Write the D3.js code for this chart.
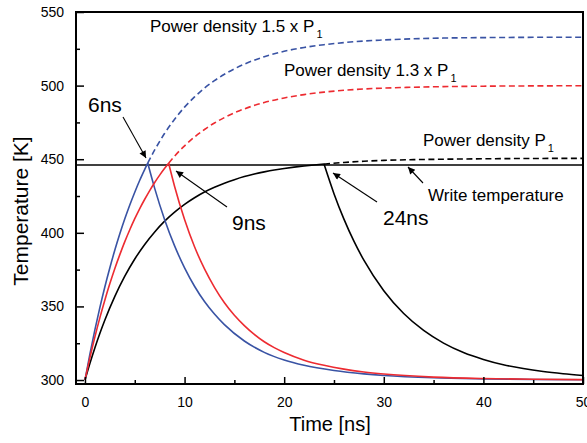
<!DOCTYPE html>
<html>
<head>
<meta charset="utf-8">
<script src="https://cdn.jsdelivr.net/npm/d3@7"></script>
<style>
  html, body { margin: 0; padding: 0; background: #fff; }
  svg { display: block; font-family: "Liberation Sans", Arial, sans-serif; }
</style>
</head>
<body>
<svg id="chart" width="587" height="443"></svg>
<script>
// ---------------- data ----------------
const xTicks = [0, 10, 20, 30, 40, 50];
const yTicks = [300, 350, 400, 450, 500, 550];
const writeTemperature = 446;

// Power density 1.5 x P1 (blue)
const blueHeatT = [0, 0.5, 1, 1.5, 2, 2.5, 3, 3.5, 4, 4.5, 5, 5.5, 6, 6.3];
const blueHeatV = [300, 317.8, 334.2, 349.4, 363.4, 376.3, 388.3, 399.3, 409.5, 418.9, 427.6, 435.7, 443.1, 447.4];
const blueDashT = [6.3, 7, 7.5, 8, 9, 10, 11, 12, 13, 14, 15, 16, 18, 20, 22, 24, 26, 28, 30, 33, 36, 40, 45, 50];
const blueDashV = [447.4, 456.3, 462.1, 467.6, 477.1, 485.4, 492.3, 498.3, 503.4, 507.7, 511.4, 514.6, 519.6, 523.3, 525.9, 527.8, 529.2, 530.3, 531.0, 531.8, 532.3, 532.6, 532.8, 532.9];
const blueCoolT = [6.3, 7, 8, 9, 10, 11, 12, 13, 14, 16, 18, 20, 22, 25, 28, 30, 35, 40, 45, 50];
const blueCoolV = [447.4, 430.2, 408.9, 391.1, 376.2, 363.7, 353.3, 344.8, 337.6, 326.5, 318.8, 313.6, 310.0, 306.5, 304.2, 303.1, 301.5, 300.8, 300.4, 300.2];

// Power density 1.3 x P1 (red)
const redHeatT = [0, 0.5, 1, 1.5, 2, 2.5, 3, 3.5, 4, 4.5, 5, 5.5, 6, 6.5, 7, 7.5, 8, 8.4];
const redHeatV = [300, 315.3, 329.4, 342.4, 354.4, 365.5, 375.8, 385.2, 394.0, 402.1, 409.6, 416.5, 422.8, 428.7, 434.2, 439.2, 443.8, 447.3];
const redDashT = [8.4, 9, 10, 11, 12, 13, 14, 15, 16, 18, 20, 22, 24, 26, 28, 30, 33, 36, 40, 45, 50];
const redDashV = [447.3, 452.1, 459.1, 465.1, 470.2, 474.6, 478.3, 481.5, 484.2, 488.5, 491.6, 493.9, 495.6, 496.8, 497.7, 498.3, 498.9, 499.3, 499.6, 499.8, 499.9];
const redCoolT = [8.4, 9, 10, 11, 12, 13, 14, 15, 16, 17, 18, 19, 20, 22, 24, 26, 28, 30, 35, 40, 45, 50];
const redCoolV = [447.3, 431.5, 409.0, 390.5, 375.5, 363.0, 352.5, 344.0, 337.0, 331.0, 326.0, 322.0, 318.7, 313.5, 310.0, 307.4, 305.5, 304.1, 302.0, 301.0, 300.5, 300.3];

// Power density P1 (black)
const blackHeatT = [0, 0.5, 1, 1.5, 2, 3, 4, 5, 6, 7, 8, 9, 10, 11, 12, 13, 14, 15, 16, 17, 18, 19, 20, 21, 22, 23, 24];
const blackHeatV = [300, 311.4, 322.0, 331.8, 340.8, 356.8, 370.5, 382.2, 392.1, 400.6, 407.9, 414.0, 419.3, 423.8, 427.7, 430.9, 433.7, 436.1, 438.2, 439.9, 441.4, 442.7, 443.7, 444.6, 445.4, 446.1, 446.7];
const blackDashT = [24, 26, 28, 30, 33, 36, 40, 45, 50];
const blackDashV = [446.7, 447.8, 448.6, 449.2, 449.7, 450.0, 450.3, 450.5, 450.6];
const blackCoolT = [24, 25, 26, 27, 28, 30, 32, 34, 36, 38, 40, 42, 44, 46, 48, 50];
const blackCoolV = [446.7, 426.6, 409.3, 394.3, 381.4, 360.7, 345.2, 333.7, 325.1, 318.7, 314.0, 310.4, 307.8, 305.8, 304.3, 303.1];

// ---------------- layout ----------------
const svg = d3.select("#chart");
const L = 76, R = 583, T = 12, B = 384;
const x = d3.scaleLinear().domain([-0.9, 50]).range([L, R]);
const y = d3.scaleLinear().domain([297.3, 550]).range([B, T]);

const BLUE = "#3953a4", RED = "#ed2b31";

const zip = (ts, vs) => ts.map((t, i) => [t, vs[i]]);
const line = d3.line().x(d => x(d[0])).y(d => y(d[1])).curve(d3.curveMonotoneX);

const g = svg.append("g");

// write temperature line
g.append("line")
  .attr("x1", L).attr("x2", R)
  .attr("y1", y(writeTemperature)).attr("y2", y(writeTemperature))
  .attr("stroke", "#000").attr("stroke-width", 1.5);

function curve(ts, vs, color, dashed) {
  g.append("path")
    .attr("d", line(zip(ts, vs)))
    .attr("fill", "none")
    .attr("stroke", color)
    .attr("stroke-width", 1.6)
    .attr("stroke-dasharray", dashed ? "6,3.5" : null);
}
curve(blackDashT, blackDashV, "#000", true);
curve(blueDashT, blueDashV, BLUE, true);
curve(redDashT, redDashV, RED, true);
curve(blackCoolT, blackCoolV, "#000", false);
curve(blackHeatT, blackHeatV, "#000", false);
curve(blueCoolT, blueCoolV, BLUE, false);
curve(redCoolT, redCoolV, RED, false);
curve(blueHeatT, blueHeatV, BLUE, false);
curve(redHeatT, redHeatV, RED, false);

// axes (ticks inward)
const xAxis = d3.axisBottom(x).tickValues(xTicks).tickSize(-7).tickPadding(13).tickFormat(d3.format("d"));
const xMinor = d3.axisBottom(x).tickValues(d3.range(5, 50, 10)).tickSize(-4).tickFormat("");
const yAxis = d3.axisLeft(y).tickValues(yTicks).tickSize(-8).tickPadding(12).tickFormat(d3.format("d"));
const yMinor = d3.axisLeft(y).tickValues(d3.range(325, 550, 50)).tickSize(-4).tickFormat("");

function styleAxis(sel) {
  sel.select(".domain").remove();
  sel.selectAll(".tick line").attr("stroke", "#000").attr("stroke-width", 1.5);
  sel.selectAll(".tick text").attr("font-size", 14).attr("fill", "#000")
    .attr("font-family", "Liberation Sans, Arial, sans-serif");
}
svg.append("g").attr("transform", `translate(0,${B})`).call(xAxis).call(styleAxis);
svg.append("g").attr("transform", `translate(0,${B})`).call(xMinor).call(styleAxis);
svg.append("g").attr("transform", `translate(${L},0)`).call(yAxis).call(styleAxis);
svg.append("g").attr("transform", `translate(${L},0)`).call(yMinor).call(styleAxis);

// frame
svg.append("rect").attr("x", L).attr("y", T).attr("width", R - L).attr("height", B - T)
  .attr("fill", "none").attr("stroke", "#000").attr("stroke-width", 2);

// axis titles
svg.append("text").attr("x", 330).attr("y", 431).attr("text-anchor", "middle")
  .attr("font-size", 20).text("Time [ns]");
svg.append("text").attr("transform", "translate(28,211) rotate(-90)").attr("text-anchor", "middle")
  .attr("font-size", 21).text("Temperature [K]");

// arrow marker
svg.append("defs").append("marker")
  .attr("id", "arr").attr("viewBox", "0 0 10 10").attr("refX", 10).attr("refY", 5)
  .attr("markerWidth", 9).attr("markerHeight", 7).attr("markerUnits", "userSpaceOnUse")
  .attr("orient", "auto")
  .append("path").attr("d", "M0,0 L10,5 L0,10 Z").attr("fill", "#000");

function arrow(x1, y1, x2, y2) {
  svg.append("line").attr("x1", x1).attr("y1", y1).attr("x2", x2).attr("y2", y2)
    .attr("stroke", "#000").attr("stroke-width", 1.1).attr("marker-end", "url(#arr)");
}

function pLabel(xp, yp, main) {
  const t = svg.append("text").attr("x", xp).attr("y", yp).attr("font-size", 17);
  t.append("tspan").text(main);
  t.append("tspan").attr("font-size", 11).attr("dx", 2).attr("dy", 6).text("1");
}
pLabel(150, 32, "Power density 1.5 x P");
pLabel(284, 76, "Power density 1.3 x P");
pLabel(423, 146, "Power density P");
svg.append("text").attr("x", 428).attr("y", 201).attr("font-size", 17).text("Write temperature");

svg.append("text").attr("x", 88).attr("y", 112).attr("font-size", 21).text("6ns");
svg.append("text").attr("x", 232).attr("y", 230).attr("font-size", 21).text("9ns");
svg.append("text").attr("x", 383).attr("y", 225).attr("font-size", 21).text("24ns");

arrow(123, 117, 146, 158);
arrow(227, 207, 176, 171);
arrow(377, 202, 333, 173);
arrow(423, 183, 408, 167);
</script>
</body>
</html>
